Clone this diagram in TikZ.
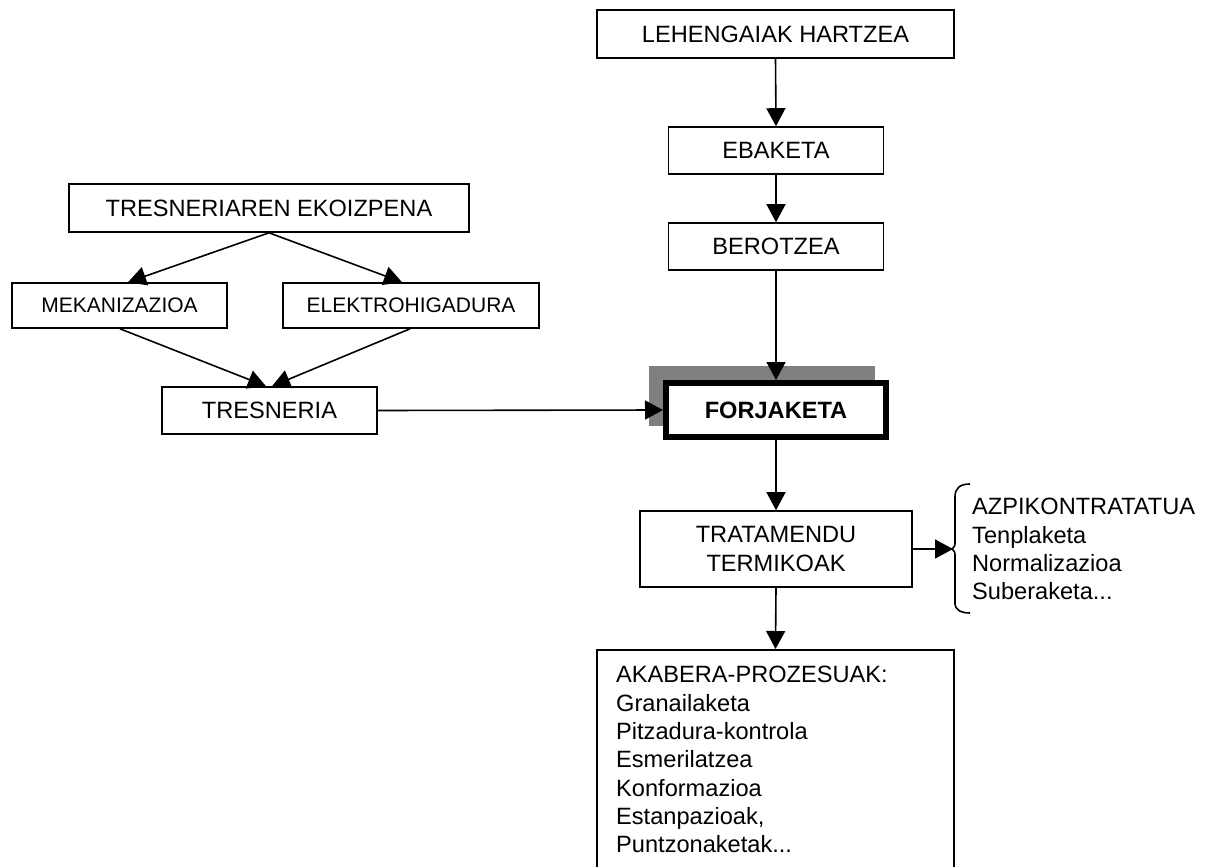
\documentclass[tikz,border=0pt]{standalone}
\usepackage{fontspec}
\setmainfont{Liberation Sans}
\usetikzlibrary{arrows.meta,backgrounds}
\tikzset{
  box/.style={draw, line width=1.6pt, rectangle, inner sep=0pt, align=center,
    font=\fontsize{23.6}{28.3}\selectfont},
  smallbox/.style={box, font=\fontsize{21}{25}\selectfont},
  arr/.style={line width=1.6pt, -{Triangle[length=18pt,width=19pt]}},
  plain/.style={inner sep=0pt, align=left, anchor=north west, font=\fontsize{23.6}{28.3}\selectfont}
}
\begin{document}
\begin{tikzpicture}[x=1pt,y=1pt]
\useasboundingbox (0,0) rectangle (1213,-867);
% right column
\node[box, minimum width=357, minimum height=48] (lh) at (775.5,-34) {LEHENGAIAK HARTZEA};
\node[box, minimum width=215, minimum height=47] (eb) at (776,-150.5) {EBAKETA};
\node[box, minimum width=215, minimum height=47] (be) at (776,-246.5) {BEROTZEA};
\node[box, line width=6pt, fill=white, minimum width=220, minimum height=54,
      font=\fontsize{23.6}{28.3}\selectfont\bfseries] (fo) at (776,-410) {FORJAKETA};
\begin{scope}[on background layer]
  \fill[black!50] ([shift={(-14,14)}]fo.south west) rectangle ([shift={(-14,14)}]fo.north east);
\end{scope}
\node[box, minimum width=272, minimum height=76] (tr) at (776,-549) {TRATAMENDU\\TERMIKOAK};
\node[box, anchor=north, minimum width=357, minimum height=235] (ak) at (775.5,-649) {};
\node[plain] (akt) at (616,-666.2) {AKABERA-PROZESUAK:\\Granailaketa\\Pitzadura-kontrola\\Esmerilatzea\\Konformazioa\\Estanpazioak,\\Puntzonaketak...};
% brace and its list
\coordinate (brtip) at (953,-549);
\draw[line width=1.6pt] (970,-484) .. controls (960,-484) and (955,-488) .. (955,-497)
   -- (955,-541) .. controls (955,-546) .. (952,-549)
   .. controls (955,-552) .. (955,-557)
   -- (955,-604) .. controls (955,-609) and (960,-613) .. (970,-613);
\node[plain] (brl) at (972,-498.1) {AZPIKONTRATATUA\\Tenplaketa\\Normalizazioa\\Suberaketa...};
% left part
\node[box, minimum width=400, minimum height=48] (te) at (269,-208) {TRESNERIAREN EKOIZPENA};
\node[smallbox, minimum width=215, minimum height=45] (mk) at (119.5,-305.5) {MEKANIZAZIOA};
\node[smallbox, minimum width=256, minimum height=45] (el) at (411,-305.5) {ELEKTROHIGADURA};
\node[box, minimum width=215, minimum height=47] (ts) at (269.5,-410.5) {TRESNERIA};
% connectors
\draw[arr] (lh.south) -- (eb.north);
\draw[arr] (eb.south) -- (be.north);
\draw[arr] (be.south) -- (fo.north);
\draw[arr] (fo.south) -- (tr.north);
\draw[arr] (tr.south) -- (ak.north);
\draw[arr] (tr.east) -- (brtip);
\draw[arr] (te.south) -- ([xshift=8.5]mk.north);
\draw[arr] (te.south) -- ([xshift=-9]el.north);
\draw[arr] ([xshift=0.5]mk.south) -- ([xshift=-3.5]ts.north);
\draw[arr] ([xshift=-1]el.south) -- ([xshift=2.5]ts.north);
\draw[arr] (ts.east) -- (fo.west);
\end{tikzpicture}
\end{document}
